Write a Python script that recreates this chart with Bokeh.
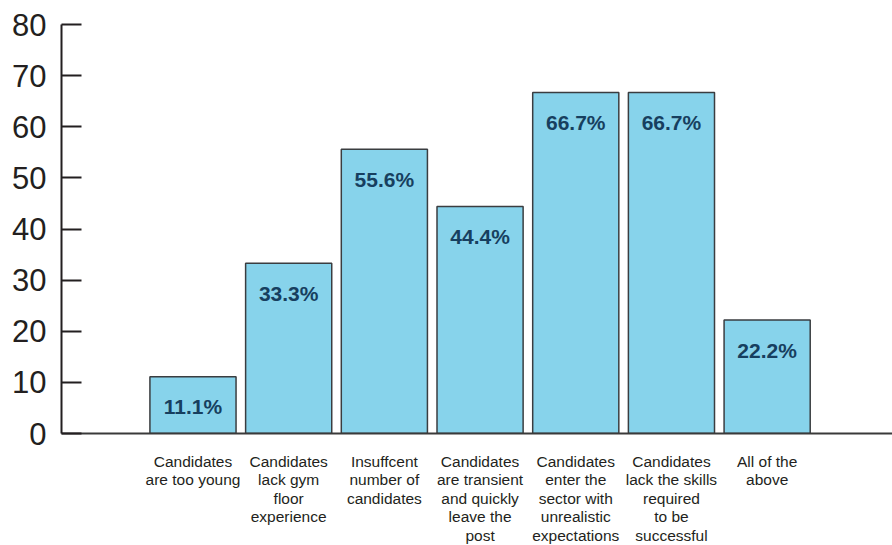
from bokeh.plotting import figure
from bokeh.models import ColumnDataSource, FixedTicker, Range1d
from bokeh.core.properties import value
from bokeh.embed import file_html
from bokeh.resources import INLINE

categories = [
    "Candidates\nare too young",
    "Candidates\nlack gym\nfloor\nexperience",
    "Insuffcent\nnumber of\ncandidates",
    "Candidates\nare transient\nand quickly\nleave the\npost",
    "Candidates\nenter the\nsector with\nunrealistic\nexpectations",
    "Candidates\nlack the skills\nrequired\nto be\nsuccessful",
    "All of the\nabove",
]
values = [11.1, 33.3, 55.6, 44.4, 66.7, 66.7, 22.2]
y_ticks = [0, 10, 20, 30, 40, 50, 60, 70, 80]

xs = list(range(len(categories)))
src = ColumnDataSource(dict(
    x=xs,
    top=values,
    label=[f"{v:.1f}%" for v in values],
))

p = figure(
    frame_width=831, frame_height=409,
    x_range=Range1d(-1.374, 7.31),
    y_range=Range1d(0, 80),
    output_backend="svg",
    toolbar_location=None,
    min_border_left=61, min_border_right=0,
    min_border_top=24, min_border_bottom=112,
)
p.outline_line_color = None
p.xgrid.grid_line_color = None
p.ygrid.grid_line_color = None
p.background_fill_color = "white"
p.border_fill_color = "white"

p.vbar(x="x", top="top", bottom=0, width=0.9, source=src,
       fill_color="#87d3eb", line_color="#3a3d40", line_width=1.5)

p.text(x="x", y="top", text="label", source=src,
       y_offset=30, text_align="center", text_baseline="middle",
       text_font=value("Liberation Sans"), text_font_style="bold",
       text_font_size="21px", text_color="#173f5f")

# y axis
ya = p.yaxis[0]
ya.ticker = FixedTicker(ticks=y_ticks)
ya.minor_tick_line_color = None
ya.major_tick_in = 20
ya.major_tick_out = 0
ya.major_tick_line_width = 2
ya.major_tick_line_color = "#231f20"
ya.axis_line_width = 2
ya.axis_line_color = "#231f20"
ya.major_label_text_font = "Liberation Sans"
ya.major_label_text_font_size = "31px"
ya.major_label_text_color = "#231f20"
ya.major_label_standoff = 15

# x axis
xa = p.xaxis[0]
xa.ticker = FixedTicker(ticks=xs)
xa.major_label_overrides = {i: c for i, c in zip(xs, categories)}
xa.minor_tick_line_color = None
xa.major_tick_line_color = None
xa.major_tick_in = 0
xa.major_tick_out = 0
xa.axis_line_width = 2
xa.axis_line_color = "#3a3a3a"
xa.major_label_text_font = "Liberation Sans"
xa.major_label_text_font_size = "15.5px"
xa.major_label_text_color = "#231f20"
xa.major_label_text_line_height = 1.09
xa.major_label_standoff = 19

open("out.html", "w").write(file_html(p, INLINE))
